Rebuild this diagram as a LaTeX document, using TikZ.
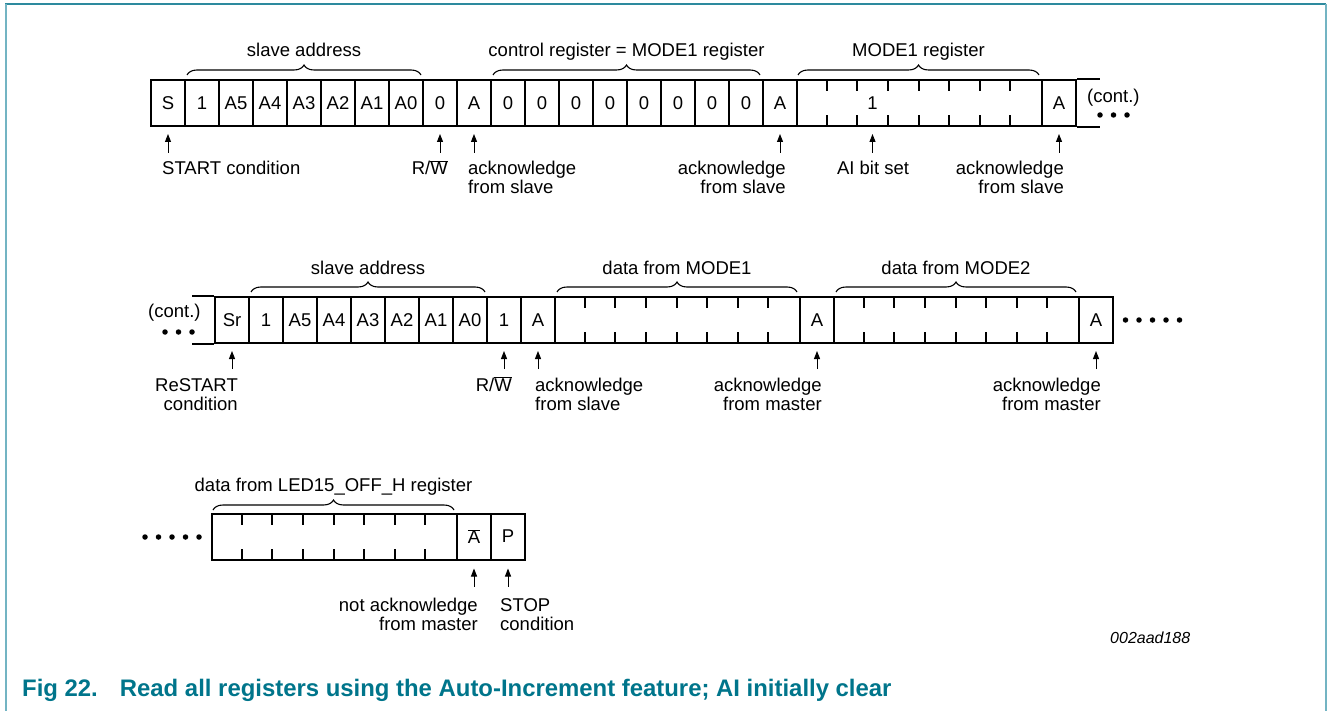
\documentclass[tikz,border=0pt]{standalone}
\usepackage{fontspec}
\setmainfont{Liberation Sans}
\usetikzlibrary{decorations.pathreplacing,arrows.meta}
\definecolor{capteal}{RGB}{0,117,139}
\definecolor{frametop}{RGB}{45,138,158}
\definecolor{frameside}{RGB}{115,180,195}
\newcommand{\ovl}[1]{\ensuremath{\overline{\hbox{#1}}}}
\begin{document}
\begin{tikzpicture}[x=1pt,y=-1pt,
  lbl/.style={font=\fontsize{18.5}{19}\selectfont, inner sep=0pt},
  cell/.style={draw, line width=2pt, minimum height=46pt, minimum width=34pt,
    inner sep=0pt, anchor=west, font=\fontsize{18.5}{19}\selectfont},
  datacell/.style={cell, minimum width=245pt},
  tick/.style={line width=2pt},
  ext/.style={line width=2pt},
  arr/.style={line width=1pt, -{Triangle[length=8pt,width=6pt]}},
  brc/.style={line width=1.1pt, decorate, decoration={brace, amplitude=10pt}},
  dot/.style={fill=black, draw=none, circle, minimum size=5.5pt, inner sep=0pt}
]
\useasboundingbox (0,0) rectangle (1327,711);
% frame
\draw[frametop, line width=2pt] (5,4) -- (1326,4);
\draw[frameside, line width=2pt] (6,4) -- (6,711);
\draw[frameside, line width=2pt] (1325.5,4) -- (1325.5,711);

% ================= ROW 1 =================
\foreach \t [count=\k from 0] in {S,1,A5,A4,A3,A2,A1,A0,0,A,0,0,0,0,0,0,0,0,A}
  \node[cell] (r1c\k) at (150+34*\k,103) {\t};
\node[datacell] (r1d) at (796,103) {};
\node[cell] (r1a) at (1041,103) {A};
\foreach \i in {1,...,7} {
  \draw[tick] (796+30.625*\i,80) -- ++(0,11);
  \draw[tick] (796+30.625*\i,126) -- ++(0,-11);
}
\node[lbl] (r1one) at (872.5,103) {1};
\draw[ext] (r1a.north east) -- ++(23pt,0);
\draw[ext] (r1a.south east) -- ++(23pt,0);
\node[lbl, anchor=west] (r1cont) at (1087,98) {(cont.)};
\foreach \x [count=\j] in {1100,1113.5,1127} \node[dot] (r1dot\j) at (\x,115) {};

% braces row 1
\draw[brc] (187,75) -- (421,75);
\node[lbl, anchor=base] (r1b1) at (304,57) {slave address};
\draw[brc] (493,75) -- (760,75);
\node[lbl, anchor=base] (r1b2) at (626.5,57) {control register = MODE1 register};
\draw[brc] (798,75) -- (1039,75);
\node[lbl, anchor=base] (r1b3) at (918.5,57) {MODE1 register};

% arrows + labels row 1
\draw[arr] ([yshift=-26pt]r1c0.south) -- ([yshift=-7pt]r1c0.south);
\node[lbl, anchor=base west] (l1a) at (162,175) {START condition};
\draw[arr] ([yshift=-26pt]r1c8.south) -- ([yshift=-7pt]r1c8.south);
\node[lbl, anchor=base east] (l1b) at (448,175) {R/\ovl{W}};
\draw[arr] ([yshift=-26pt]r1c9.south) -- ([yshift=-7pt]r1c9.south);
\node[lbl, anchor=base west, align=left] (l1c) at (468,194) {acknowledge\\from slave};
\draw[arr] ([yshift=-26pt]r1c18.south) -- ([yshift=-7pt]r1c18.south);
\node[lbl, anchor=base east, align=right] (l1d) at (786,194) {acknowledge\\from slave};
\draw[arr] ([yshift=-26pt]r1one.south |- r1d.south) -- ([yshift=-7pt]r1one.south |- r1d.south);
\node[lbl, anchor=base] (l1e) at (873,175) {AI bit set};
\draw[arr] ([yshift=-26pt]r1a.south) -- ([yshift=-7pt]r1a.south);
\node[lbl, anchor=base east, align=right] (l1f) at (1064,194) {acknowledge\\from slave};

% ================= ROW 2 =================
\foreach \t [count=\k from 0] in {Sr,1,A5,A4,A3,A2,A1,A0,1,A}
  \node[cell] (r2c\k) at (214+34*\k,320) {\t};
\node[datacell] (r2d1) at (554,320) {};
\node[cell] (r2a1) at (799,320) {A};
\node[datacell] (r2d2) at (833,320) {};
\node[cell] (r2a2) at (1078,320) {A};
\foreach \i in {1,...,7} {
  \draw[tick] (554+30.625*\i,297) -- ++(0,11);
  \draw[tick] (554+30.625*\i,343) -- ++(0,-11);
  \draw[tick] (833+30.625*\i,297) -- ++(0,11);
  \draw[tick] (833+30.625*\i,343) -- ++(0,-11);
}
\draw[ext] (r2c0.north west) -- ++(-22pt,0);
\draw[ext] (r2c0.south west) -- ++(-22pt,0);
\node[lbl, anchor=west] (r2cont) at (148,313) {(cont.)};
\foreach \x [count=\j] in {165,178.5,192} \node[dot] (r2dot\j) at (\x,332) {};
\foreach \x [count=\j] in {1125.5,1139,1152.5,1166,1179.5} \node[dot] (r2edot\j) at (\x,320) {};

% braces row 2
\draw[brc] (251,292) -- (485,292);
\node[lbl, anchor=base] (r2b1) at (368,274) {slave address};
\draw[brc] (557,292) -- (797,292);
\node[lbl, anchor=base] (r2b2) at (677,274) {data from MODE1};
\draw[brc] (836,292) -- (1076,292);
\node[lbl, anchor=base] (r2b3) at (956,274) {data from MODE2};

% arrows + labels row 2
\draw[arr] ([yshift=-25pt]r2c0.south) -- ([yshift=-7pt]r2c0.south);
\node[lbl, anchor=base east, align=right] (l2a) at (238,410.5) {ReSTART\\condition};
\draw[arr] ([yshift=-25pt]r2c8.south) -- ([yshift=-7pt]r2c8.south);
\node[lbl, anchor=base east] (l2b) at (512,391.5) {R/\ovl{W}};
\draw[arr] ([yshift=-25pt]r2c9.south) -- ([yshift=-7pt]r2c9.south);
\node[lbl, anchor=base west, align=left] (l2c) at (535,410.5) {acknowledge\\from slave};
\draw[arr] ([yshift=-25pt]r2a1.south) -- ([yshift=-7pt]r2a1.south);
\node[lbl, anchor=base east, align=right] (l2d) at (822,410.5) {acknowledge\\from master};
\draw[arr] ([yshift=-25pt]r2a2.south) -- ([yshift=-7pt]r2a2.south);
\node[lbl, anchor=base east, align=right] (l2e) at (1101,410.5) {acknowledge\\from master};

% ================= ROW 3 =================
\node[datacell] (r3d) at (211,536.5) {};
\node[cell] (r3na) at (456,536.5) {\ovl{A}};
\node[cell] (r3p) at (490,536.5) {P};
\foreach \i in {1,...,7} {
  \draw[tick] (211+30.625*\i,513.5) -- ++(0,11);
  \draw[tick] (211+30.625*\i,559.5) -- ++(0,-11);
}
\foreach \x [count=\j] in {145,158.5,172,185.5,199} \node[dot] (r3dot\j) at (\x,537) {};
\draw[brc] (213,510) -- (454,510);
\node[lbl, anchor=base] (r3b) at (333.5,491) {data from LED15\_OFF\_H register};
\draw[arr] ([yshift=-26pt]r3na.south) -- ([yshift=-8pt]r3na.south);
\node[lbl, anchor=base east, align=right] (l3a) at (478,630.5) {not acknowledge\\from master};
\draw[arr] ([yshift=-26pt]r3p.south) -- ([yshift=-8pt]r3p.south);
\node[lbl, anchor=base west, align=left] (l3b) at (500,630.5) {STOP\\condition};

% id
\node[inner sep=0pt, anchor=base west, font=\itshape\fontsize{16}{18}\selectfont] (id) at (1110,643) {002aad188};

% caption
\node[inner sep=0pt, anchor=base west, text=capteal, font=\bfseries\fontsize{23.9}{26}\selectfont] (cap) at (22,696.5)
  {Fig 22.\hspace*{22pt}Read all registers using the Auto-Increment feature; AI initially clear};
\end{tikzpicture}
\end{document}
